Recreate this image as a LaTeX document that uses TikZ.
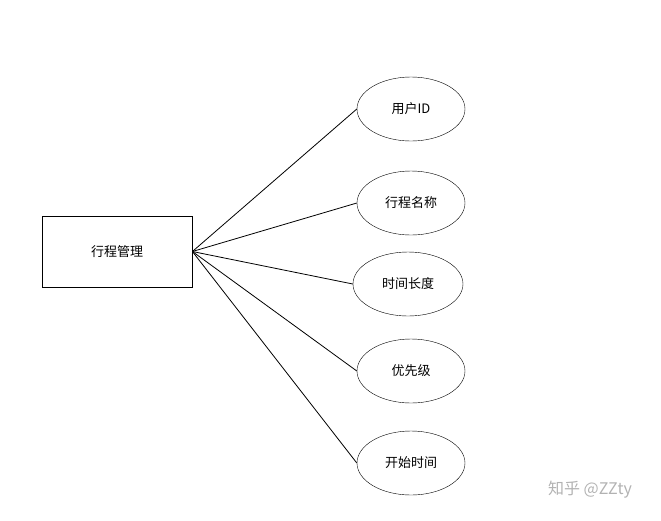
\documentclass[tikz,border=0pt]{standalone}
\usepackage{fontspec}
\setmainfont{Noto Sans CJK SC}
\usetikzlibrary{shapes.geometric}
\begin{document}
\begin{tikzpicture}[x=1pt,y=-1pt,
 ell/.style={draw,ellipse,minimum width=108pt,minimum height=64pt,inner sep=0pt,font=\fontsize{13}{15}\selectfont},
 line/.style={draw,line width=0.8pt}]
\useasboundingbox (0,0) rectangle (661,520);
\node[draw,line width=0.8pt,minimum width=150pt,minimum height=71pt,font=\fontsize{13}{15}\selectfont] (m) at (117,251.5) {行程管理};
\node[ell] (a) at (411,109) {用户ID};
\node[ell] (b) at (411,203) {行程名称};
\node[ell,minimum width=110pt] (c) at (408,284) {时间长度};
\node[ell] (d) at (411,371) {优先级};
\node[ell] (e) at (411,463) {开始时间};
\foreach \n in {a,b,c,d,e} \draw[line] (m.east) -- (\n.west);
\node[text=gray!60,font=\fontsize{16}{18}\selectfont] (w) at (590,490) {知乎 @ZZty};
\end{tikzpicture}
\end{document}
